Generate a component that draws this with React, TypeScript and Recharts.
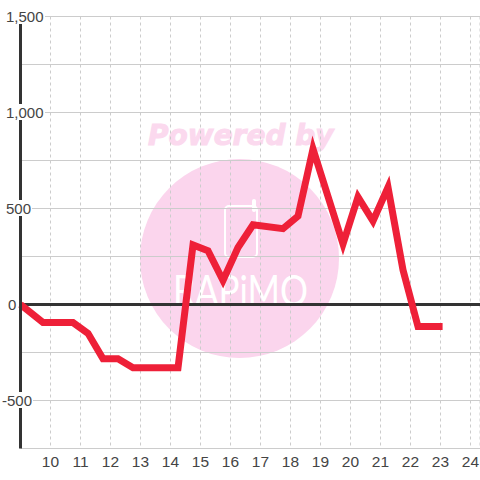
import React from "react";
import { LineChart, Line, XAxis, YAxis, CartesianGrid, ReferenceLine } from "recharts";

const hours = [9, 9.75, 10.75, 11.25, 11.75, 12.25, 12.75, 14.25, 14.75, 15.25, 15.75, 16.25, 16.75, 17.75, 18.25, 18.75, 19.75, 20.25, 20.75, 21.25, 21.75, 22.25, 23.07];
const values = [0, -94, -94, -150, -283, -283, -330, -330, 310, 280, 125, 297, 415, 395, 460, 810, 315, 560, 435, 610, 180, -115, -115];
const xTicks = [10, 11, 12, 13, 14, 15, 16, 17, 18, 19, 20, 21, 22, 23, 24];
const yTicks = [-750, -500, -250, 0, 250, 500, 750, 1000, 1250, 1500];
const labelledTicks = [-500, 0, 500, 1000, 1500];
const data = hours.map((h, i) => ({ h, v: values[i] }));

const FONT = "'Liberation Sans', Arial, sans-serif";

function formatValue(v: number) {
  return v.toLocaleString("en-US");
}

function YTick(props: any) {
  const { y, payload } = props;
  if (!labelledTicks.includes(payload.value)) return null;
  const label = formatValue(payload.value);
  const w = payload.value === 0 ? 9 : payload.value < 0 ? 30 : payload.value === 500 ? 25 : 38;
  const left = payload.value < 0 ? 2 : payload.value === 0 ? 8 : 6;
  return (
    <g>
      <rect x={left - 1} y={y - 8.5} width={w + 2} height={16} fill="#fff" />
      <text x={left} y={y + 5.5} fontSize={15} fontFamily={FONT} fill="#444">{label}</text>
    </g>
  );
}

function Watermark() {
  return (
    <svg width={480} height={480} style={{ position: "absolute", left: 0, top: 0 }}>
      <circle cx={239.5} cy={258.5} r={99.5} fill="#fbd5ed" />
      <text x={148} y={145} fontSize={28} fontWeight="bold" fontStyle="italic" fontFamily="'DejaVu Sans'" fill="#fbd9ee" stroke="#fbd9ee" strokeWidth={1}>Powered by</text>
      <rect x={225} y={206} width={32} height={51} rx={4} fill="none" stroke="#fff" strokeWidth={2} />
      <line x1={254} y1={201} x2={254} y2={210} stroke="#fff" strokeWidth={4} strokeLinecap="round" />
      <text x={173} y={306} fontSize={43} fontFamily="Lato" fill="#fff" textLength={135} lengthAdjust="spacingAndGlyphs">RAPiMO</text>
    </svg>
  );
}

export default function App() {
  return (
    <div style={{ position: "absolute", left: 0, top: 0, width: 480, height: 480, background: "#fff" }}>
      <Watermark />
      <div style={{ position: "absolute", left: 0, top: 0 }}>
        <LineChart width={480} height={480} data={data} margin={{ top: 16.5, right: 0, bottom: 0, left: 0 }}>
          <CartesianGrid stroke="#ccc" strokeWidth={1} vertical={false} />
          <CartesianGrid stroke="#ccc" strokeWidth={1} strokeDasharray="3 3" horizontal={false} />
          <XAxis
            dataKey="h"
            type="number"
            domain={[9, 24.3167]}
            ticks={xTicks}
            axisLine={false}
            tickLine={false}
            height={31.5}
            interval={0}
            tick={{ fontSize: 15.5, fontFamily: FONT, fill: "#444", dy: -1 }}
            allowDecimals
          />
          <YAxis
            type="number"
            domain={[-750, 1500]}
            ticks={yTicks}
            width={20.5}
            interval={0}
            tickLine={false}
            axisLine={{ stroke: "#333", strokeWidth: 3 }}
            tick={<YTick />}
          />
          <ReferenceLine y={0} stroke="#333" strokeWidth={3} />
          <Line
            dataKey="v"
            type="linear"
            stroke="#ee2038"
            strokeWidth={7}
            dot={false}
            activeDot={false}
            isAnimationActive={false}
            strokeLinejoin="miter"
            strokeLinecap="butt"
          />
        </LineChart>
      </div>
    </div>
  );
}
